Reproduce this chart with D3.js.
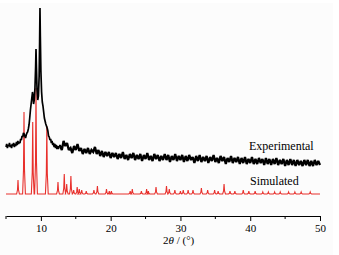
<!DOCTYPE html>
<html><head><meta charset="utf-8">
<script src="https://cdn.jsdelivr.net/npm/d3@7"></script>
<style>
html,body{margin:0;padding:0;background:#fff;}
svg{display:block;}
</style></head>
<body>
<script>
// ---- data ----
const xTicks = [10, 20, 30, 40, 50];
const xMinorTicks = [5, 15, 25, 35, 45];
const seriesNames = ["Experimental", "Simulated"];

// experimental pattern, peak region: [2theta, intensity]
const expHead = [[5.0,69],[5.1,72],[5.2,68],[5.3,71],[5.4,70],[5.5,73],[5.6,69],[5.7,71],[5.8,68],[5.9,72],
[6.0,70],[6.1,73],[6.2,69],[6.3,72],[6.4,70],[6.5,74],[6.6,71],[6.7,75],[6.8,72],[6.9,74],
[7.0,73],[7.1,77],[7.2,76],[7.3,80],[7.4,79],[7.5,83],[7.6,82],[7.7,80],[7.8,78],[7.9,81],
[8.0,83],[8.1,84],[8.2,87],[8.3,91],[8.4,98],[8.5,106],[8.6,112],[8.7,118],[8.8,124],[8.85,122],
[8.95,112],[9.05,116],[9.15,128],[9.25,150],[9.3,167],[9.35,152],[9.45,126],[9.55,116],[9.65,120],
[9.75,140],[9.82,175],[9.87,208],[9.92,180],[10.0,145],[10.1,124],[10.2,114],[10.3,110],[10.4,104],
[10.5,98],[10.6,95],[10.7,92],[10.8,90],[10.9,88],[11.0,85],[11.1,80],[11.2,79],[11.3,76],[11.4,77],
[11.5,73],[11.6,75],[11.7,71],[11.8,73],[11.9,69],[12.0,72],[12.1,68],[12.2,71],[12.3,67],[12.4,70],
[12.5,67],[12.6,70]];
// experimental pattern, 12.75..50 every 0.25 deg
const expTailStart = 12.75, expTailStep = 0.25;
const expTail = [70,
66,75,70,73, 66,68,63,70, 66,72,65,68, 62,67,63,68, 62,66,64,69, 62,66,60,65, 59,64,60,64,
58,63,59,63, 57,62,58,64, 57,61,56,62, 58,63,56,61, 57,62,55,61, 57,63,56,60, 55,62,57,61,
55,60,56,62, 56,61,54,60, 56,62,55,60, 56,61,54,60, 55,61,56,59, 53,60,55,61, 54,59,55,60,
53,59,55,61, 54,58,53,60, 55,59,52,58, 54,60,53,58, 54,59,52,58, 53,59,52,57, 53,59,52,57,
52,58,53,57, 51,58,52,57, 51,57,52,58, 51,56,52,57, 50,56,51,57, 51,56,50,56, 51,55,50,56,
51,56,50,55, 50,56,51,55,
51];

// simulated pattern: peak positions (2theta) and heights above its baseline
const simPeaks = [[6.72,14],[7.58,82],[8.83,72],[9.3,106],[10.85,68],[12.45,12],[13.35,20],[13.7,10],
[14.3,18],[14.7,4],[15.2,7],[15.5,5],[15.85,4],[16.5,3],[17.6,4],[18.1,8],[19.4,5],[19.8,3],[20.1,3],
[22.8,3],[23.1,5],[24.4,3],[25.15,5],[25.4,3],[26.5,7],[28.0,8],[28.4,5],[29.2,4],[30.0,3],[30.4,4],
[31.1,4],[31.8,4],[33.0,6],[33.9,4],[34.9,4],[35.4,3],[36.25,10],[37.1,3],[37.8,3],[39.0,4],[39.8,3],
[40.7,3],[41.8,2],[42.6,2],[43.5,2],[44.3,2],[45.5,2],[46.4,2],[47.3,2],[48.6,2]];
const simBase = 22;

// ---- chart ----
const W = 339, H = 255;
const serif = "'Liberation Serif', 'Times New Roman', 'DejaVu Serif', serif";
const svg = d3.select("body").append("svg").attr("width", W).attr("height", H);
svg.append("rect").attr("x",0).attr("y",3).attr("width",333).attr("height",H-3).attr("fill","#fcfcfc");

const x = d3.scaleLinear().domain([5, 50]).range([6, 320]);
const y = d3.scaleLinear().domain([0, 210]).range([216, 6]);

const tailTheta = d3.range(expTail.length).map(i => expTailStart + i * expTailStep);
const tailData = [expHead[expHead.length - 1]].concat(tailTheta.map((t, i) => [t, expTail[i]]));

const simData = [[5.0, simBase]];
simPeaks.forEach(([t, h]) => {
  simData.push([t - 0.2, simBase], [t - 0.07, simBase + h * 0.3], [t, simBase + h],
               [t + 0.07, simBase + h * 0.3], [t + 0.2, simBase]);
});
simData.push([50, simBase]);

const line = d3.line().x(d => x(d[0])).y(d => y(d[1]));

svg.append("path").datum(simData).attr("d", line)
  .attr("fill", "none").attr("stroke", "#e8302c").attr("stroke-width", 1.1);
svg.append("path").datum(expHead).attr("d", line)
  .attr("fill", "none").attr("stroke", "#000").attr("stroke-width", 1.7)
  .attr("stroke-linejoin", "miter").attr("stroke-miterlimit", 2);
svg.append("path").datum(tailData).attr("d", line)
  .attr("fill", "none").attr("stroke", "#000").attr("stroke-width", 2.3)
  .attr("stroke-linejoin", "miter").attr("stroke-miterlimit", 2);

// axis
const gx = svg.append("g").attr("transform", `translate(0,${y(0)})`);
gx.call(d3.axisBottom(x).tickValues(xTicks).tickSize(5).tickSizeOuter(0).tickPadding(3).tickFormat(d3.format("d")));
gx.attr("font-family", serif).attr("font-size", 11);
gx.selectAll("text").attr("font-family", serif).attr("font-size", 11).attr("fill", "#000");
gx.select(".domain").attr("stroke", "#000");
gx.selectAll(".tick line").attr("stroke", "#000");
gx.selectAll(".minor").data(xMinorTicks).enter().append("line")
  .attr("x1", d => x(d)).attr("x2", d => x(d)).attr("y1", 0).attr("y2", 3).attr("stroke", "#000");

const title = svg.append("text").attr("x", 163).attr("y", 244)
  .attr("font-family", serif).attr("font-size", 11).attr("fill", "#000");
title.append("tspan").text("2");
title.append("tspan").attr("font-style", "italic").text("θ");
title.append("tspan").text(" / (°)");

svg.append("text").attr("x", 249).attr("y", 150).attr("font-family", serif).attr("font-size", 12)
  .attr("fill", "#000").text(seriesNames[0]);
svg.append("text").attr("x", 250).attr("y", 185).attr("font-family", serif).attr("font-size", 12)
  .attr("fill", "#000").text(seriesNames[1]);
</script>
</body></html>
